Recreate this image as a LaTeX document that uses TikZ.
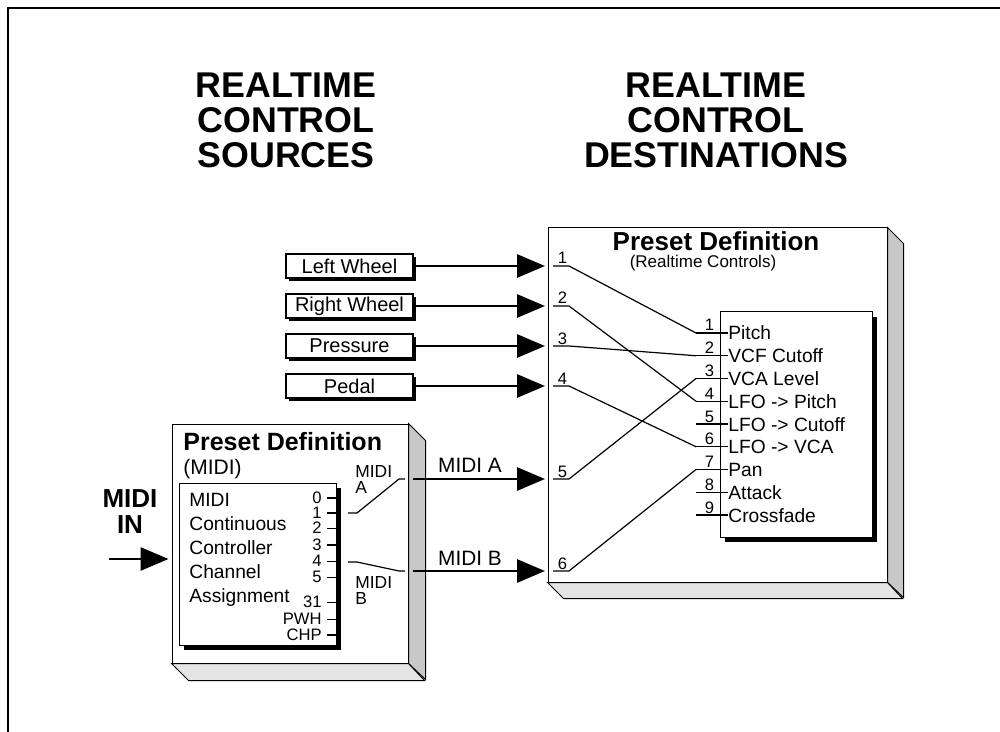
\documentclass[tikz,border=0pt]{standalone}
\usepackage{fontspec}
\setmainfont{Liberation Sans}
\usetikzlibrary{arrows.meta,shadows}
\definecolor{ink}{HTML}{000000}
\definecolor{sidegray}{HTML}{C8C8C8}
\definecolor{floorgray}{HTML}{E4E4E4}

\begin{document}
\begin{tikzpicture}[x=0.5pt, y=-0.5pt,
    srcbox/.style={draw=ink, line width=0.6pt, fill=white, minimum width=63.5pt, minimum height=12pt, inner sep=0pt,
      font=\fontsize{10}{12}\selectfont, general shadow={fill=ink, shadow xshift=1.3pt, shadow yshift=-1.3pt}},
    slabface/.style={draw=ink, line width=0.5pt, fill=white, inner sep=0pt},
    slabside/.style={draw=ink, line width=0.5pt, fill=sidegray},
    slabfloor/.style={draw=ink, line width=0.5pt, fill=floorgray},
    panel/.style={draw=ink, line width=0.5pt, fill=white, inner sep=0pt,
      general shadow={fill=ink, shadow xshift=2.4pt, shadow yshift=-2.4pt}},
    wire/.style={ink, line width=0.6pt},
    arr/.style={ink, line width=1.4pt, -{Triangle[length=14pt, width=11.5pt]}},
    heading/.style={font=\bfseries\fontsize{17.9}{17.9}\selectfont, anchor=base, inner sep=0pt},
    lab/.style={font=\fontsize{9.6}{11}\selectfont, anchor=base west, inner sep=0pt},
    num/.style={font=\fontsize{8.3}{9}\selectfont, anchor=base, inner sep=0pt}]

  \useasboundingbox (0,0) rectangle (1000,732);

  % frame
  \draw[ink, line width=0.9pt] (8,732) -- (8,8) -- (1000,8);

  % headings
  \foreach \w [count=\k] in {REALTIME, CONTROL, SOURCES}
    \node[heading] (hs\k) at (286,63+35*\k) {\w};
  \foreach \w [count=\k] in {REALTIME, CONTROL, DESTINATIONS}
    \node[heading] (hd\k) at (716,63+35*\k) {\w};

  % destination slab
  \node[slabface, minimum width=169.5pt, minimum height=177pt] (rt) at (717.5,405) {};
  \draw[slabside] (rt.north east) -- ++(16,16) -- ++(0,354) -- (rt.south east) -- cycle;
  \draw[slabfloor] (rt.south west) -- ++(16,16) -- ++(339,0) -- (rt.south east) -- cycle;
  \node[font=\bfseries\fontsize{13}{13}\selectfont, anchor=base, inner sep=0pt] (rtt) at (716,251) {Preset Definition};
  \node[font=\fontsize{8.5}{9}\selectfont, anchor=base, inner sep=0pt] (rts) at (703,268) {(Realtime Controls)};

  % destination list
  \node[panel, minimum width=76pt, minimum height=112.5pt] (dp) at (796,424.5) {};
  \foreach \d [count=\k] in {Pitch, VCF Cutoff, VCA Level, LFO -> Pitch, LFO -> Cutoff, LFO -> VCA, Pan, Attack, Crossfade}{
    \coordinate (dt\k) at (696,310.25+22.75*\k);
    \node[lab] (d\k) at (728,317.25+22.75*\k) {\d};
    \node[num] (dn\k) at (709.5,308.25+22.75*\k) {\k};
    \draw[wire] (dt\k) -- (dt\k -| d\k.west);
  }

  % source inputs and routing
  \foreach \y [count=\k] in {266,306,346,386,479,571}{
    \coordinate (s\k) at (553,\y);
    \coordinate (sx\k) at (569,\y);
    \node[num] (sn\k) at (562.5,\y-2) {\k};
  }
  \foreach \a/\b in {1/1,2/4,3/2,4/6,5/3,6/7}
    \draw[wire] (s\a) -- (sx\a) -- (dt\b);

  % source boxes
  \node[srcbox] (lw) at (349.5,266) {Left Wheel};
  \node[srcbox] (rw) at (349.5,306) {Right Wheel};
  \node[srcbox] (pr) at (349.5,346) {Pressure};
  \node[srcbox] (pd) at (349.5,386) {Pedal};
  \draw[arr, shorten >=4pt] (lw) -- (s1);
  \draw[arr, shorten >=4pt] (rw) -- (s2);
  \draw[arr, shorten >=4pt] (pr) -- (s3);
  \draw[arr, shorten >=4pt] (pd) -- (s4);

  % midi slab
  \node[slabface, minimum width=118pt, minimum height=119.5pt] (mb) at (290,543.5) {};
  \draw[slabside] (mb.north east) -- ++(17,17) -- ++(0,239) -- (mb.south east) -- cycle;
  \draw[slabfloor] (mb.south west) -- ++(17,17) -- ++(236,0) -- (mb.south east) -- cycle;
  \node[font=\bfseries\fontsize{12.5}{13}\selectfont, anchor=base west, inner sep=0pt] (mbt) at (183,450) {Preset Definition};
  \node[font=\fontsize{10.5}{12}\selectfont, anchor=base west, inner sep=0pt] (mbs) at (183,474) {(MIDI)};

  % controller assignment list
  \node[panel, minimum width=78.5pt, minimum height=81pt] (cp) at (257.5,564) {};
  \foreach \t [count=\k] in {MIDI, Continuous, Controller, Channel, Assignment}
    \node[lab] (c\k) at (189,482+24*\k) {\t};
  \foreach \t/\y [count=\k] in {0/498, 1/513, 2/528.5, 3/545, 4/561.5, 5/577.5, 31/602.5, PWH/619.5, CHP/635}{
    \node[num, anchor=base east] (m\k) at (322,\y+5) {\t};
    \coordinate (mt\k) at (327,\y);
    \draw[wire] (mt\k) -- ++(13,0);
  }
  \node[font=\fontsize{8.7}{8}\selectfont, align=left, anchor=base west, inner sep=0pt] (ta) at (355,493) {MIDI\\A};
  \node[font=\fontsize{8.7}{8}\selectfont, align=left, anchor=base west, inner sep=0pt] (tb) at (355,604) {MIDI\\B};

  % midi a / b routing
  \coordinate (ma) at (348,513);
  \coordinate (mb0) at (348,562);
  \draw[wire] (ma) -- ++(9,0) -- ++(42,-34) -- ++(6,0);
  \draw[wire] (mb0) -- ++(9,0) -- ++(42,9) -- ++(6,0);
  \coordinate (oa) at (413,479);
  \coordinate (ob) at (413,571);
  \draw[arr, shorten >=4pt] (oa) -- (s5);
  \draw[arr, shorten >=4pt] (ob) -- (s6);
  \node[font=\fontsize{10.4}{12}\selectfont, anchor=base, inner sep=0pt] (la) at (470,472) {MIDI A};
  \node[font=\fontsize{10.4}{12}\selectfont, anchor=base, inner sep=0pt] (lb) at (470,565) {MIDI B};

  % midi in
  \node[font=\bfseries\fontsize{13}{13}\selectfont, align=center, anchor=base, inner sep=0pt] (mi) at (130,533) {MIDI\\IN};
  \coordinate (mo) at (109,559);
  \draw[arr, shorten >=1.5pt] (mo) -- (mo -| mb.west);
\end{tikzpicture}
\end{document}
